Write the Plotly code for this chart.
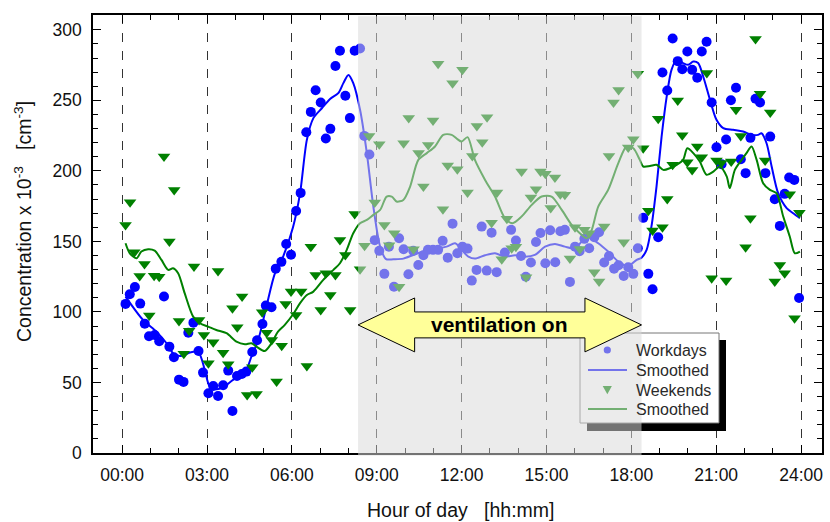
import plotly.graph_objects as go

# ---------------- data (hours of day, concentration x 10^-3 cm^-3) ----------------
work_x = [0.12, 0.27, 0.45, 0.64, 0.80, 0.95, 1.15, 1.31, 1.48, 1.67, 1.83, 2.01, 2.17, 2.34, 2.52, 2.70,
          2.86, 3.05, 3.22, 3.39, 3.57, 3.75, 3.90, 4.06, 4.23, 4.39, 4.60, 4.77, 4.96, 5.08, 5.28, 5.43,
          5.63, 5.80, 5.97, 6.15, 6.31, 6.51, 6.67, 6.84, 7.02, 7.20, 7.36, 7.54, 7.70, 7.89, 8.05, 8.22,
          8.41, 8.56, 8.74, 8.93, 9.09, 9.27, 9.43, 9.61, 9.79, 9.95, 10.12, 10.29, 10.47, 10.65, 10.81,
          10.99, 11.17, 11.33, 11.51, 11.68, 11.85, 12.03, 12.21, 12.36, 12.53, 12.71, 12.89, 13.06, 13.24,
          13.53, 13.75, 13.92, 14.10, 14.27, 14.45, 14.63, 14.79, 14.96, 15.13, 15.31, 15.49, 15.65, 15.83,
          16.01, 16.17, 16.34, 16.51, 16.69, 16.86, 17.04, 17.21, 17.39, 17.55, 17.73, 17.89, 18.07, 18.23,
          18.42, 18.60, 18.75, 18.95, 19.10, 19.27, 19.46, 19.64, 19.80, 19.98, 20.15, 20.33, 20.49, 20.66,
          20.84, 21.01, 21.19, 21.35, 21.52, 21.70, 21.87, 22.04, 22.21, 22.39, 22.55, 22.74, 22.91, 23.07,
          23.25, 23.42, 23.58, 23.76, 23.93]
work_y = [105.7, 112.5, 117.7, 105.9, 91.7, 82.8, 83.7, 79.2, 110.9, 75.4, 67.9, 52.0, 50.4, 85.3, 92.4, 72.3,
          57.0, 42.3, 47.5, 40.4, 48.0, 58.4, 29.8, 54.6, 56.0, 57.7, 71.6, 79.9, 91.5, 104.5, 103.3, 130.7,
          135.5, 148.2, 140.6, 171.6, 184.4, 227.4, 241.8, 257.2, 248.5, 222.9, 229.8, 274.3, 285.1, 253.2, 237.4, 285.1,
          286.8, 224.8, 211.6, 150.9, 143.3, 127.0, 146.3, 117.9, 152.2, 144.4, 126.7, 143.3, 133.3, 140.2, 144.0,
          144.0, 144.0, 150.4, 138.5, 162.6, 141.6, 146.3, 144.9, 122.2, 129.8, 160.5, 129.3, 156.2, 128.2,
          142.1, 158.2, 150.6, 139.7, 125.0, 135.0, 149.6, 156.0, 134.5, 157.9, 135.2, 157.2, 158.2, 121.3,
          146.3, 143.0, 151.8, 145.2, 153.0, 156.5, 135.0, 139.7, 130.7, 133.1, 125.5, 131.7, 127.0, 145.2,
          166.7, 127.0, 116.1, 153.0, 269.7, 257.0, 293.8, 277.8, 272.1, 284.6, 271.6, 266.0, 284.6, 291.5,
          248.5, 216.8, 204.7, 222.2, 250.1, 258.9, 208.3, 198.4, 223.4, 251.1, 248.5, 198.4, 224.3, 179.9,
          161.0, 183.7, 195.3, 193.6, 109.9]

work_smooth_x = [0.12, 0.74, 1.21, 1.57, 1.80, 2.04, 2.51, 2.72, 2.92, 3.10, 3.33, 3.57, 3.92, 4.34, 4.57,
                 4.81, 5.10, 5.40, 5.69, 6.04, 6.29, 6.53, 6.76, 7.06, 7.35, 7.64, 7.82, 8.00, 8.17, 8.41,
                 8.65, 8.88, 9.12, 9.33, 9.59, 9.94, 10.29, 10.65, 11.00, 11.47, 11.77, 12.00, 12.24, 12.47,
                 12.83, 13.18, 13.53, 13.89, 14.24, 14.59, 14.95, 15.30, 15.65, 16.01, 16.30, 16.48, 16.83,
                 17.18, 17.54, 17.89, 18.19, 18.36, 18.54, 18.71, 18.89, 19.07, 19.25, 19.42, 19.60, 19.83,
                 20.01, 20.19, 20.36, 20.54, 20.78, 21.01, 21.25, 21.60, 21.95, 22.25, 22.48, 22.60, 22.78,
                 22.96, 23.19, 23.49, 23.72, 23.96]
work_smooth_y = [110.9, 94.3, 86.0, 77.8, 70.7, 68.8, 71.8, 70.7, 58.9, 47.0, 45.2, 46.6, 51.8, 57.0, 68.3,
                 80.1, 103.8, 127.4, 139.2, 160.0, 184.2, 222.0, 237.4, 244.4, 251.0, 255.1, 262.2, 268.0, 262.2, 243.3,
                 212.6, 174.7, 146.3, 137.4, 137.4, 137.8, 140.4, 142.8, 144.5, 146.3, 148.7, 144.0, 139.2, 137.8,
                 140.2, 141.6, 139.2, 140.2, 139.2, 140.4, 146.3, 148.2, 146.3, 145.2, 151.0, 153.0, 148.7,
                 142.8, 135.7, 132.6, 136.9, 138.5, 144.0, 160.5, 188.9, 224.3, 252.7, 271.6, 278.7, 276.4,
                 275.2, 277.5, 276.4, 266.9, 250.4, 236.2, 230.3, 229.1, 227.9, 225.5, 225.5, 226.7, 219.6,
                 203.1, 184.2, 173.6, 170.0, 166.5]

wknd_x = [0.12, 0.28, 0.43, 0.62, 0.79, 0.96, 1.13, 1.31, 1.48, 1.67, 1.84, 2.01, 2.18, 2.37, 2.54, 2.72,
          2.89, 3.05, 3.22, 3.39, 3.57, 3.75, 3.90, 4.07, 4.24, 4.42, 4.60, 4.75, 4.95, 5.11, 5.29, 5.46,
          5.64, 5.78, 5.97, 6.15, 6.33, 6.53, 6.67, 6.84, 7.02, 7.20, 7.36, 7.54, 7.70, 7.89, 8.06, 8.22,
          8.41, 8.57, 8.73, 8.93, 9.09, 9.27, 9.44, 9.62, 9.79, 9.95, 10.13, 10.30, 10.48, 10.65, 10.82,
          10.99, 11.17, 11.34, 11.51, 11.68, 11.85, 12.03, 12.21, 12.38, 12.54, 12.73, 12.90, 13.06, 13.25,
          13.42, 13.60, 13.77, 13.92, 14.12, 14.28, 14.45, 14.63, 14.79, 14.96, 15.15, 15.30, 15.49, 15.65,
          15.83, 16.01, 16.18, 16.34, 16.51, 16.69, 16.86, 17.04, 17.21, 17.37, 17.55, 17.73, 17.89, 18.07,
          18.23, 18.42, 18.60, 18.75, 18.95, 19.10, 19.27, 19.46, 19.64, 19.80, 19.98, 20.15, 20.33, 20.49,
          20.67, 20.84, 21.01, 21.18, 21.35, 21.53, 21.70, 21.87, 22.04, 22.21, 22.39, 22.55, 22.73, 22.91,
          23.07, 23.25, 23.42, 23.60, 23.77, 23.94]
wknd_y = [161.7, 177.8, 142.3, 125.5, 134.0, 97.4, 125.7, 125.0, 210.2, 149.9, 186.5, 93.6, 70.4, 86.7, 132.2, 94.3,
          83.7, 63.6, 78.5, 129.1, 71.1, 62.9, 102.6, 89.1, 110.9, 41.1, 60.8, 41.8, 99.8, 85.3, 80.1, 50.6,
          76.1, 105.7, 114.4, 97.9, 114.4, 61.7, 146.3, 126.2, 101.4, 127.4, 112.0, 126.2, 151.0, 140.4, 101.4, 169.5,
          130.3, 147.0, 224.8, 177.5, 218.9, 161.7, 147.3, 155.8, 117.9, 219.6, 237.4, 144.5, 212.6, 188.9, 218.4,
          235.7, 275.9, 172.8, 203.8, 262.2, 201.2, 271.6, 184.6, 210.6, 231.9, 220.3, 238.1, 163.3, 184.6,
          137.4, 166.1, 145.2, 146.3, 199.5, 124.6, 181.1, 187.0, 199.5, 197.9, 173.6, 195.3, 183.5, 183.0,
          137.8, 160.1, 144.7, 158.2, 155.8, 128.2, 121.5, 160.5, 210.6, 248.5, 257.4, 149.4, 216.5, 222.5,
          268.8, 216.0, 171.8, 157.7, 236.9, 160.1, 180.1, 204.3, 249.9, 225.3, 206.2, 200.7, 217.3, 209.7,
          269.3, 123.9, 207.3, 205.5, 122.2, 206.6, 243.3, 224.8, 145.9, 166.5, 293.4, 254.6, 207.3, 241.3,
          121.5, 133.3, 127.4, 183.5, 95.5, 170.4]

wknd_smooth_x = [0.12, 0.27, 0.51, 0.68, 0.92, 1.15, 1.39, 1.63, 1.80, 1.98, 2.21, 2.51, 2.75, 3.04, 3.33,
                 3.69, 4.04, 4.34, 4.57, 4.75, 5.04, 5.28, 5.51, 5.75, 6.05, 6.29, 6.53, 6.76, 7.11, 7.47,
                 7.70, 7.94, 8.17, 8.41, 8.65, 8.88, 9.12, 9.35, 9.53, 9.70, 9.94, 10.18, 10.47, 10.77, 11.06,
                 11.35, 11.65, 11.85, 12.00, 12.21, 12.47, 12.83, 13.18, 13.53, 13.80, 14.12, 14.48, 14.83,
                 15.18, 15.54, 15.89, 16.18, 16.42, 16.60, 16.83, 17.18, 17.54, 17.83, 18.07, 18.30, 18.42,
                 18.66, 18.89, 19.13, 19.36, 19.60, 19.83, 19.98, 20.19, 20.42, 20.66, 20.90, 21.13, 21.37,
                 21.48, 21.66, 21.90, 22.07, 22.25, 22.43, 22.66, 22.90, 23.13, 23.37, 23.60, 23.78, 23.96]
wknd_smooth_y = [148.7, 141.6, 138.0, 142.8, 144.5, 143.5, 136.9, 129.8, 131.0, 127.4, 113.3, 96.7, 92.0, 89.6, 87.2,
                 84.9, 78.9, 77.1, 77.8, 75.4, 72.3, 77.8, 86.0, 90.8, 98.5, 106.2, 112.0, 114.4, 122.7, 129.8,
                 134.5, 144.0, 155.8, 162.9, 165.2, 168.8, 172.3, 181.8, 181.8, 178.3, 179.4, 188.9, 207.8, 212.6, 217.3,
                 225.5, 225.5, 222.5, 220.8, 223.9, 207.8, 193.6, 181.8, 166.5, 162.9, 167.6, 175.9, 181.8,
                 181.8, 172.3, 161.7, 155.8, 152.2, 158.2, 174.7, 186.5, 205.5, 217.3, 216.0, 207.8, 203.1,
                 203.5, 204.3, 200.7, 201.9, 204.3, 207.8, 216.0, 212.6, 206.6, 197.2, 199.5, 203.1, 196.1,
                 187.8, 200.7, 207.8, 212.6, 217.3, 207.8, 191.3, 186.5, 184.2, 167.6, 153.5, 141.6, 142.8]

tick_vals = [0, 3, 6, 9, 12, 15, 18, 21, 24]
tick_text = ["00:00", "03:00", "06:00", "09:00", "12:00", "15:00", "18:00", "21:00", "24:00"]
legend_labels = ["Workdays", "Smoothed", "Weekends", "Smoothed"]

vent_start, vent_end = 8.34, 18.36   # ventilation-on period (hours)

# ---------------- styling / layout constants ----------------
BLUE = "#0000ff"
GREEN = "#008000"
FONT = "Liberation Sans, Arial, sans-serif"
W, H = 830, 522
ML, MR, MT, MB = 93, 8, 15, 69
PW, PH = W - ML - MR, H - MT - MB


def px(xp):
    return (xp - ML) / PW


def py(yp):
    return (H - MB - yp) / PH


fig = go.Figure()
fig.add_trace(go.Scatter(x=work_x, y=work_y, mode="markers", name=legend_labels[0],
                         marker=dict(symbol="circle", size=10, color=BLUE), showlegend=False))
fig.add_trace(go.Scatter(x=work_smooth_x, y=work_smooth_y, mode="lines", name=legend_labels[1],
                         line=dict(color=BLUE, width=2, shape="spline", smoothing=0.8), showlegend=False))
fig.add_trace(go.Scatter(x=wknd_x, y=wknd_y, mode="markers", name=legend_labels[2],
                         marker=dict(symbol="triangle-down", size=11, color=GREEN), showlegend=False))
fig.add_trace(go.Scatter(x=wknd_smooth_x, y=wknd_smooth_y, mode="lines", name=legend_labels[3],
                         line=dict(color=GREEN, width=2, shape="spline", smoothing=0.8), showlegend=False))

shapes = []
# legend shadow + box
shapes.append(dict(type="rect", xref="paper", yref="paper", x0=px(587), x1=px(726), y0=py(431), y1=py(340),
                   fillcolor="black", line=dict(width=0), layer="above"))
shapes.append(dict(type="rect", xref="paper", yref="paper", x0=px(580), x1=px(719), y0=py(423), y1=py(333),
                   fillcolor="white", line=dict(color="#777777", width=1), layer="above"))
# legend symbols
rows = [350, 370, 390, 409]
mx = 607.3
shapes.append(dict(type="circle", xref="paper", yref="paper", x0=px(mx - 3.6), x1=px(mx + 3.6),
                   y0=py(rows[0] + 3.6), y1=py(rows[0] - 3.6), fillcolor=BLUE, line=dict(width=0), layer="above"))
shapes.append(dict(type="line", xref="paper", yref="paper", x0=px(588), x1=px(627), y0=py(rows[1]), y1=py(rows[1]),
                   line=dict(color=BLUE, width=2), layer="above"))
tri = "M %f,%f L %f,%f L %f,%f Z" % (px(mx - 4.6), py(rows[2] - 4), px(mx + 4.6), py(rows[2] - 4),
                                     px(mx), py(rows[2] + 4.2))
shapes.append(dict(type="path", xref="paper", yref="paper", path=tri, fillcolor=GREEN,
                   line=dict(width=0), layer="above"))
shapes.append(dict(type="line", xref="paper", yref="paper", x0=px(588), x1=px(627), y0=py(rows[3]), y1=py(rows[3]),
                   line=dict(color=GREEN, width=2), layer="above"))
# ventilation shading (drawn over data)
shapes.append(dict(type="rect", xref="x", yref="paper", x0=vent_start, x1=vent_end, y0=-0.006, y1=0.997,
                   fillcolor="rgba(218,218,218,0.53)", line=dict(width=0), layer="above"))
# double arrow
ay, head_h, shaft_h, head_len = 90.8, 19.1, 9.2, 2.0
a0, a1 = vent_start, vent_end
arrow = ("M {a0},{ay} L {b0},{t} L {b0},{st} L {b1},{st} L {b1},{t} L {a1},{ay} L {b1},{b} L {b1},{sb} "
         "L {b0},{sb} L {b0},{b} Z").format(a0=a0, a1=a1, ay=ay, b0=a0 + head_len, b1=a1 - head_len,
                                            t=ay + head_h, b=ay - head_h, st=ay + shaft_h, sb=ay - shaft_h)
shapes.append(dict(type="path", xref="x", yref="y", path=arrow, fillcolor="#ffff99",
                   line=dict(color="black", width=1), layer="above"))

annotations = [
    dict(text="<b>ventilation on</b>", x=(a0 + a1) / 2, y=ay, xref="x", yref="y", showarrow=False,
         xanchor="center", yanchor="middle", font=dict(family=FONT, size=21, color="black")),
    dict(text="Hour of day\u00a0\u00a0\u00a0[hh:mm]", x=px(461), y=py(510), xref="paper", yref="paper",
         xanchor="center", yanchor="middle",
         showarrow=False, font=dict(family=FONT, size=19.5, color="#111111")),
    dict(text="Concentration x 10<sup>-3</sup>\u00a0\u00a0\u00a0[cm<sup>-3</sup>]", x=px(23), y=py(222),
         xref="paper", yref="paper", showarrow=False, textangle=-90, xanchor="center", yanchor="middle",
         font=dict(family=FONT, size=19.5, color="#111111")),
]
for lab, r in zip(legend_labels, rows):
    annotations.append(dict(text=lab, x=px(634), y=py(r), xref="paper", yref="paper", showarrow=False,
                            xanchor="left", yanchor="middle", font=dict(family=FONT, size=16, color="#2a2a2a")))

fig.update_layout(
    width=W, height=H,
    margin=dict(l=ML, r=MR, t=MT, b=MB, autoexpand=False),
    paper_bgcolor="white", plot_bgcolor="white",
    showlegend=False,
    font=dict(family=FONT, size=17.5, color="#111111"),
    shapes=shapes, annotations=annotations,
)
fig.update_xaxes(range=[-1.03, 24.74], tickmode="array", tickvals=tick_vals, ticktext=tick_text,
                 ticks="inside", ticklen=8, tickwidth=1.3, tickcolor="black", ticklabelstandoff=5,
                 showline=True, linecolor="black", linewidth=1.5, mirror="ticks",
                 showgrid=True, gridcolor="#333333", griddash="dash", gridwidth=1, zeroline=False,
                 minor=dict(dtick=1, tick0=0, ticks="inside", ticklen=5, tickwidth=1.2, tickcolor="black",
                            showgrid=False),
                 tickfont=dict(family=FONT, size=17.5, color="#111111"))
fig.update_yaxes(range=[0, 310.5], tickmode="linear", tick0=0, dtick=50,
                 ticks="inside", ticklen=8, tickwidth=1.3, tickcolor="black", ticklabelstandoff=6,
                 showline=True, linecolor="black", linewidth=1.5, mirror="ticks",
                 showgrid=False, zeroline=False,
                 minor=dict(dtick=10, tick0=0, ticks="inside", ticklen=5, tickwidth=1.2, tickcolor="black",
                            showgrid=False),
                 tickfont=dict(family=FONT, size=17.5, color="#111111"))

fig.write_html("out.html")
